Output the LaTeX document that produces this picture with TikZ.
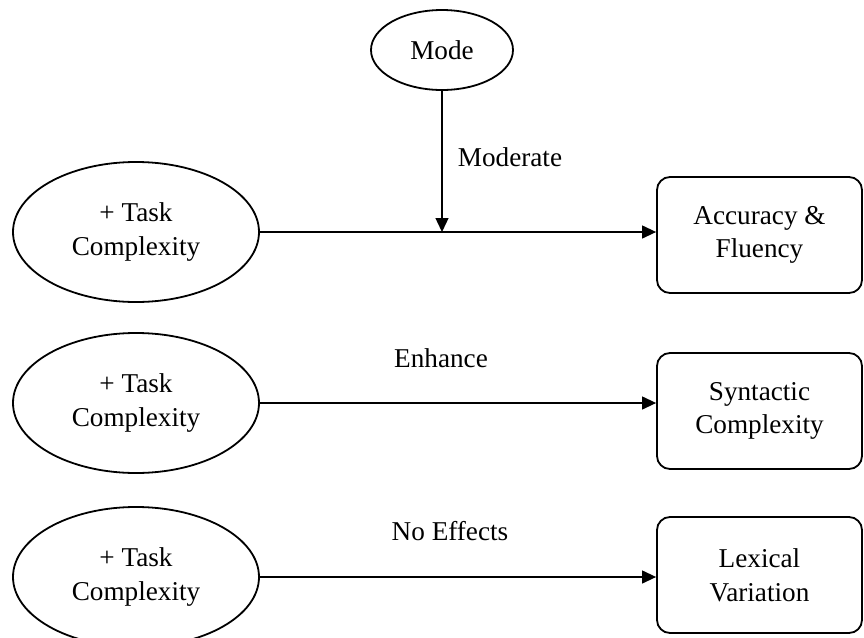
\documentclass[tikz,border=0pt]{standalone}
\usepackage{fontspec}
\setmainfont{Liberation Serif}
\usetikzlibrary{shapes.geometric,arrows.meta}
\begin{document}
\begin{tikzpicture}[x=0.5pt,y=-0.5pt,
  every node/.style={font=\fontsize{13.6}{16.8}\selectfont},
  ell/.style={ellipse,draw,line width=0.9pt,fill=white,inner sep=0pt,align=center},
  outbox/.style={rectangle,draw,line width=0.9pt,fill=white,rounded corners=6.5pt,
    minimum width=102.5pt,minimum height=58pt,inner sep=0pt,align=center},
  arr/.style={line width=0.65pt,-{Triangle[length=7pt,width=6.5pt]}},
  lbl/.style={inner sep=0pt}]
\useasboundingbox (0,0) rectangle (864,638);
\node[ell,minimum width=71pt,minimum height=40pt] (mode) at (442,50) {Mode};
\node[ell,minimum width=123pt,minimum height=70pt] (e1) at (136,232) {+ Task\\Complexity};
\node[ell,minimum width=123pt,minimum height=70pt] (e2) at (136,403) {+ Task\\Complexity};
\node[ell,minimum width=123pt,minimum height=70pt] (e3) at (136,577) {+ Task\\Complexity};
\node[outbox] (b1) at (759.5,235) {Accuracy \&\\Fluency};
\node[outbox] (b2) at (759.5,411) {Syntactic\\Complexity};
\node[outbox] (b3) at (759.5,575) {Lexical\\Variation};
\draw[arr] (e1) -- (e1 -| b1.west);
\draw[arr] (e2) -- (e2 -| b2.west);
\draw[arr] (e3) -- (e3 -| b3.west);
\coordinate (m1) at (mode |- e1);
\draw[arr] (mode) -- (m1);
\node[lbl] (lmod) at (510,157) {Moderate};
\node[lbl] (lenh) at (441,358) {Enhance};
\node[lbl] (lnoe) at (450,531) {No Effects};
\end{tikzpicture}
\end{document}
